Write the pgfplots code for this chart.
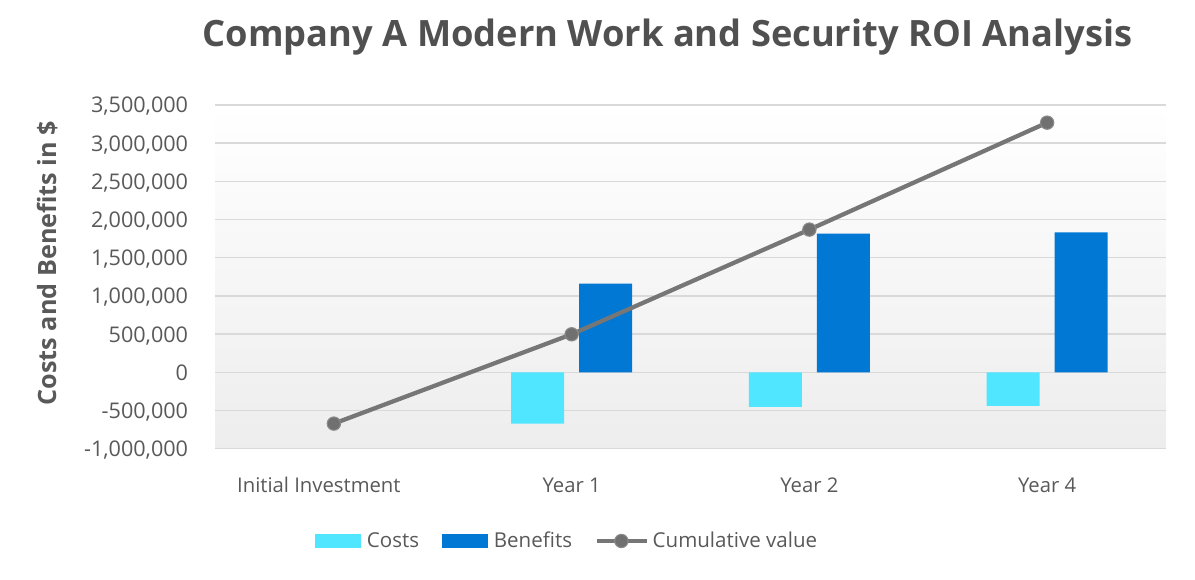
\documentclass[border=0pt]{standalone}
\usepackage{pgfplots}
\pgfplotsset{compat=1.18}
\usepackage{fontspec}
\setmainfont{Open Sans}
\definecolor{costc}{HTML}{50E6FF}
\definecolor{benc}{HTML}{0078D4}
\definecolor{linec}{HTML}{767676}
\definecolor{markc}{HTML}{707070}
\definecolor{marke}{HTML}{8A8A8A}
\definecolor{txt}{HTML}{595959}
\definecolor{titc}{HTML}{505050}
\definecolor{gridc}{HTML}{D9D9D9}
\begin{document}
\begin{tikzpicture}[x=1pt,y=1pt]
\path[use as bounding box] (0,0) rectangle (896.25,435);
\begin{axis}[
  at={(161.25pt,98.5pt)}, anchor=south west,
  scale only axis, width=713.25pt, height=257.8pt,
  xmin=-0.5, xmax=3.5, ymin=-1000000, ymax=3500000,
  xtick={0,1,2,3},
  xticklabels={Initial Investment\hspace*{22.5pt}, Year 1, Year 2, Year 4},
  ytick={-1000000,-500000,0,500000,1000000,1500000,2000000,2500000,3000000,3500000},
  scaled y ticks=false,
  ymajorgrids,
  grid style={gridc, line width=1.1pt},
  axis line style={draw=none},
  major tick length=0pt,
  axis background/.style={shade, top color=white, bottom color=black!7},
  yticklabel style={font=\fontsize{16.2}{19}\selectfont, text=txt, anchor=base east, inner sep=0pt, xshift=-20pt, yshift=-6pt},
  xticklabel style={font=\fontsize{15.2}{18}\selectfont, text=txt, anchor=base, inner sep=0pt, yshift=-33.2pt},
  legend columns=3,
  legend style={draw=none, fill=none, at={(0.1052,-0.2686)}, anchor=west, inner sep=0pt,
    font=\fontsize{15.4}{18}\selectfont, text=txt, nodes={inner sep=2.4pt},
    /tikz/every even column/.append style={column sep=15pt}},
  legend cell align=left,
  /pgf/number format/fixed,
  /pgf/number format/precision=0,
  /pgf/number format/1000 sep={,},
  /pgf/number format/assume math mode=true,
]
\addplot[ybar, bar width=0.223, bar shift=-0.143, fill=costc, draw=none,
  legend image code/.code={\fill[costc] (0pt,-5.6pt) rectangle (34.5pt,5.6pt);}]
  coordinates {(1,-672000) (2,-454000) (3,-441000)};
\addlegendentry{\hspace*{1.8pt}Costs}
\addplot[ybar, bar width=0.223, bar shift=0.143, fill=benc, draw=none,
  legend image code/.code={\fill[benc] (0pt,-5.6pt) rectangle (34.5pt,5.6pt);}]
  coordinates {(1,1161000) (2,1815000) (3,1832000)};
\addlegendentry{\hspace*{1.8pt}Benefits}
\addplot[linec, line width=3.2pt, mark=*, mark size=5pt,
  mark options={fill=markc, draw=marke, line width=0.8pt},
  legend image code/.code={\draw[linec, line width=3.2pt] (0pt,0pt) -- (37.5pt,0pt);
    \draw[fill=markc, draw=marke, line width=0.8pt] (18pt,0pt) circle (5pt);}]
  coordinates {(0,-672000) (1,497000) (2,1868000) (3,3268000)};
\addlegendentry{Cumulative value}
\end{axis}
\node[anchor=base, font=\fontsize{27.2}{32}\selectfont\bfseries, text=titc] at (500.6,399.75) {Company A Modern Work and Security ROI Analysis};
\node[rotate=90, anchor=center, font=\fontsize{18.9}{22}\selectfont\bfseries, text=txt] at (36,237.75) {Costs and Benefits in \$};
\end{tikzpicture}
\end{document}
